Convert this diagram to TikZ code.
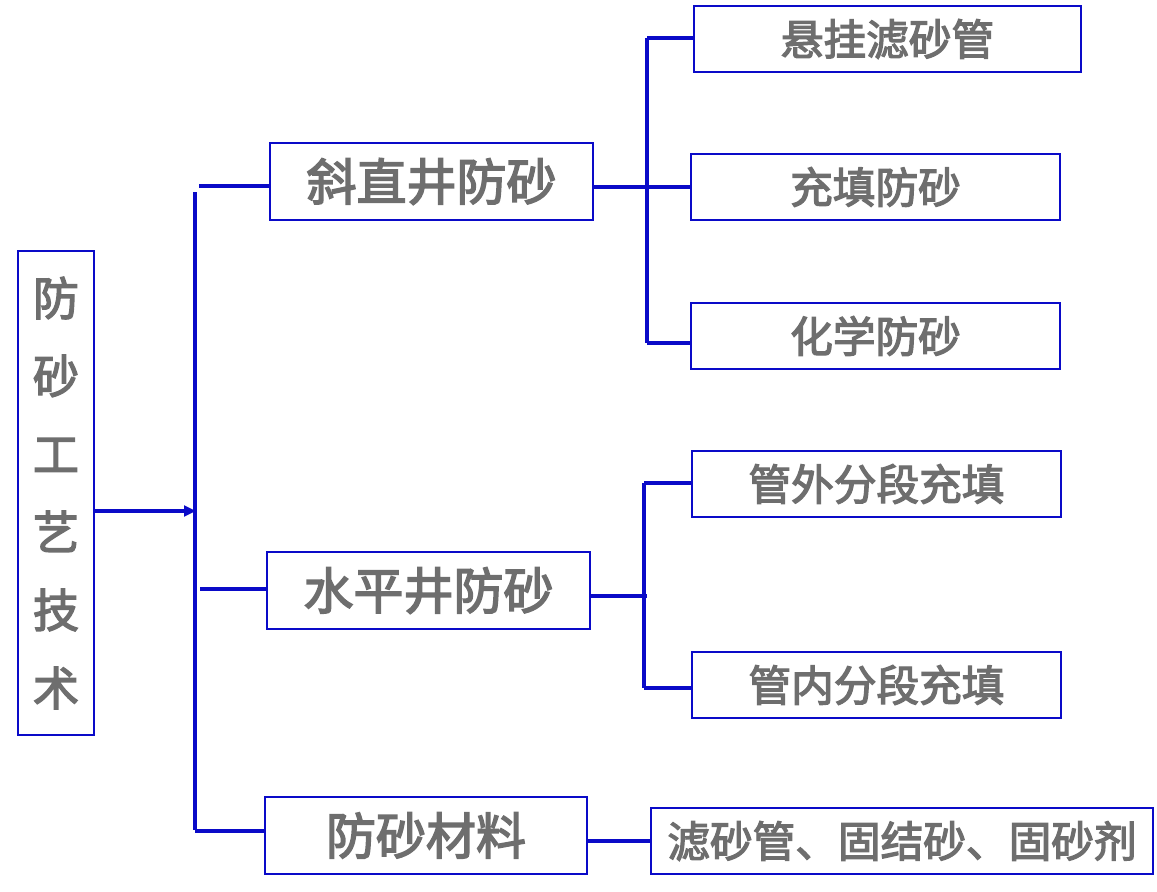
\documentclass[tikz,border=0pt]{standalone}
\usepackage{fontspec}
\newfontfamily\cjk{Noto Sans CJK SC}[FakeBold=3]
\usetikzlibrary{arrows.meta}
\definecolor{lineblue}{HTML}{0A0AC8}
\definecolor{txtgray}{HTML}{6E6E6E}
\tikzset{
  boxx/.style={draw=lineblue, line width=2.1pt, rectangle, inner sep=0pt, text=txtgray, font=\cjk},
  bigbox/.style={boxx, font=\cjk\fontsize{37.5}{42}\selectfont},
  smallbox/.style={boxx, font=\cjk\fontsize{32}{38}\selectfont},
  conn/.style={draw=lineblue, line width=2.3pt}
}
\begin{document}
\begin{tikzpicture}[x=0.75pt,y=-0.75pt]
\useasboundingbox (0,0) rectangle (1157,892);
% root
\node[boxx, minimum width=76*0.75pt, minimum height=484*0.75pt, align=center,
  font=\cjk\fontsize{34.5}{58.5}\selectfont] (root) at (56,493) {防\\砂\\工\\艺\\技\\术};
% level 1
\node[bigbox, minimum width=323*0.75pt, minimum height=77*0.75pt] (s1) at (431.5,181.5) {斜直井防砂};
\node[bigbox, minimum width=323*0.75pt, minimum height=77*0.75pt] (s2) at (428.5,590.5) {水平井防砂};
\node[bigbox, minimum width=322*0.75pt, minimum height=77*0.75pt] (s3) at (426,835.5) {防砂材料};
% level 2
\node[smallbox, minimum width=387*0.75pt, minimum height=66*0.75pt] (c1) at (887.5,39) {悬挂滤砂管};
\node[smallbox, minimum width=369*0.75pt, minimum height=66*0.75pt] (c2) at (875.5,187) {充填防砂};
\node[smallbox, minimum width=369*0.75pt, minimum height=66*0.75pt] (c3) at (875.5,336) {化学防砂};
\node[smallbox, minimum width=369*0.75pt, minimum height=66*0.75pt] (c4) at (876.5,484) {管外分段充填};
\node[smallbox, minimum width=369*0.75pt, minimum height=66*0.75pt] (c5) at (876.5,685) {管内分段充填};
\node[smallbox, minimum width=502*0.75pt, minimum height=66*0.75pt] (c6) at (902,841) {滤砂管、固结砂、固砂剂};
% connector points
\coordinate (r0) at (196,511);
\coordinate (sp1) at (195,192);
\coordinate (sp2) at (195,830);
\coordinate (a1) at (199,186);
\coordinate (a2) at (200,589);
\coordinate (a3) at (195,831);
\coordinate (b1) at (647,187);
\coordinate (bt) at (647,38);
\coordinate (bb) at (647,343);
\coordinate (d1) at (647,596);
\coordinate (dt) at (644,483);
\coordinate (db) at (644,688);
\coordinate (e1) at (644,841);
% connectors
\draw[conn, -{Triangle[length=9pt,width=8pt]}] (r0 -| root.east) -- (r0);
\draw[conn] (sp1) -- (sp2);
\draw[conn] (a1) -- (a1 -| s1.west);
\draw[conn] (a2) -- (a2 -| s2.west);
\draw[conn] (a3) -- (a3 -| s3.west);
\draw[conn] (b1 -| s1.east) -- (b1 -| c2.west);
\draw[conn] (bt) -- (bb);
\draw[conn] (bt) -- (bt -| c1.west);
\draw[conn] (bb) -- (bb -| c3.west);
\draw[conn] (d1 -| s2.east) -- (d1);
\draw[conn] (dt) -- (db);
\draw[conn] (dt) -- (dt -| c4.west);
\draw[conn] (db) -- (db -| c5.west);
\draw[conn] (e1 -| s3.east) -- (e1);
\draw[conn] (e1) -- (e1 -| c6.west);
\end{tikzpicture}
\end{document}
